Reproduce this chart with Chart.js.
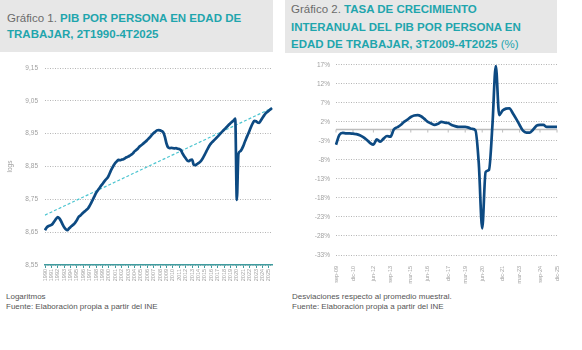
<!DOCTYPE html>
<html>
<head>
<meta charset="utf-8">
<script src="https://cdn.jsdelivr.net/npm/chart.js@4"></script>
<style>
  body { margin: 0; width: 582px; height: 350px; background: #fff; position: relative; overflow: hidden;
         font-family: "Liberation Sans", Arial, sans-serif; }
  .titulo { position: absolute; top: 0; background: #e7e7e7; font-size: 11.5px; color: #6b6b6b; box-sizing: border-box; }
  .titulo b { color: #1fa5ad; }
  .titulo span { color: #1fa5ad; }
  #t1 { left: 0; width: 273px; height: 52px; padding: 10px 0 0 7px; line-height: 16px; }
  #t2 { left: 285px; width: 272px; height: 53px; padding: 1px 0 0 6px; line-height: 17.5px; }
  .nota { position: absolute; font-size: 8px; color: #555; line-height: 10px; }
  #n1 { left: 6px; top: 292px; }
  #n2 { left: 292px; top: 292px; }
  .caja { position: absolute; top: 55px; height: 235px; }
  #c1 { left: 0; width: 280px; }
  #c2 { left: 285px; width: 285px; }
</style>
</head>
<body>
<div class="titulo" id="t1">Gráfico 1. <b>PIB POR PERSONA EN EDAD DE<br>TRABAJAR, 2T1990-4T2025</b></div>
<div class="titulo" id="t2">Gráfico 2. <b>TASA DE CRECIMIENTO<br>INTERANUAL DEL PIB POR PERSONA EN<br>EDAD DE TRABAJAR, 3T2009-4T2025</b> <span>(%)</span></div>

<div class="caja" id="c1"><canvas id="pibChart"></canvas></div>
<div class="caja" id="c2"><canvas id="tasaChart"></canvas></div>

<div class="nota" id="n1">Logaritmos<br>Fuente: Elaboración propia a partir del INE</div>
<div class="nota" id="n2">Desviaciones respecto al promedio muestral.<br>Fuente: Elaboración propia a partir del INE</div>

<script>
// Años del eje X del gráfico 1 (datos trimestrales desde 2T1990)
const years = ['1990','1991','1992','1993','1994','1995','1996','1997','1998','1999',
  '2000','2001','2002','2003','2004','2005','2006','2007','2008','2009',
  '2010','2011','2012','2013','2014','2015','2016','2017','2018','2019',
  '2020','2021','2022','2023','2024','2025'];

// PIB por persona en edad de trabajar (logs), 2T1990-4T2025
const pibLog = [
  8.656, 8.664, 8.668,
  8.670, 8.672, 8.677, 8.684,
  8.691, 8.696, 8.692, 8.684,
  8.674, 8.665, 8.659, 8.656,
  8.661, 8.666, 8.670, 8.674,
  8.680, 8.687, 8.696, 8.700,
  8.705, 8.710, 8.714, 8.718,
  8.723, 8.731, 8.740, 8.750,
  8.760, 8.770, 8.777, 8.784,
  8.791, 8.797, 8.804, 8.810,
  8.815, 8.824, 8.835, 8.845,
  8.854, 8.861, 8.866, 8.870,
  8.869, 8.871, 8.872, 8.875,
  8.878, 8.880, 8.883, 8.886,
  8.890, 8.896, 8.900, 8.904,
  8.910, 8.914, 8.918, 8.922,
  8.926, 8.931, 8.936, 8.941,
  8.947, 8.952, 8.956, 8.960,
  8.961, 8.960, 8.958, 8.954,
  8.940, 8.920, 8.908, 8.906,
  8.907, 8.906, 8.905, 8.906,
  8.904, 8.903, 8.900, 8.890,
  8.882, 8.875, 8.868, 8.866,
  8.870, 8.871, 8.856, 8.854,
  8.857, 8.860, 8.864, 8.870,
  8.878, 8.887, 8.897, 8.906,
  8.915, 8.921, 8.926, 8.931,
  8.936, 8.941, 8.946, 8.952,
  8.957, 8.962, 8.967, 8.972,
  8.977, 8.982, 8.986, 8.990,
  8.996, 8.748, 8.888, 8.896,
  8.902, 8.912, 8.925, 8.937,
  8.948, 8.960, 8.972, 8.982,
  8.989, 8.988, 8.984, 8.983,
  8.990, 8.998, 9.005, 9.012,
  9.016, 9.020, 9.024, 9.028
];

// Tendencia lineal: solo extremos
const trendStart = 8.702;
const trendEnd = 9.028;

const yTicksLeft = [8.55, 8.65, 8.75, 8.85, 8.95, 9.05, 9.15];

// Gráfico 2: trimestres 3T2009-4T2025
const monthNames = ['mar', 'jun', 'sep', 'dic'];
const tasaLabels = [];
for (let y = 2009; y <= 2025; y++) {
  monthNames.forEach((m, q) => {
    if (y === 2009 && q < 2) return;
    tasaLabels.push(`${m}-${String(y).slice(2)}`);
  });
}

const tasa = [
  -4.0, -1.4, -0.9, -1.0, -1.0, -1.1, -1.2, -1.5, -2.0, -2.7,
  -3.5, -4.0, -2.6, -3.2, -2.4, -1.7, -1.9, 0.0, 0.6, 1.2,
  2.0, 2.6, 3.3, 3.7, 3.8, 3.5, 2.8, 2.0, 1.6, 1.2,
  1.5, 2.0, 1.8, 1.7, 1.2, 0.9, 0.7, 0.7, 0.7, 0.5,
  0.2, -0.2, -9.0, -26.0, -11.2, -10.6, 1.0, 16.7, 3.8, 5.0,
  5.5, 5.6, 4.3, 2.8, 1.2, -0.3, -0.8, -0.8, 0.0, 1.0,
  1.2, 1.2, 0.7, 0.7, 0.7, 0.7
];

const yTicksRight = [-33, -28, -23, -18, -13, -8, -3, 2, 7, 12, 17];
const xTicksRight = ['sep-09','dic-10','jun-12','sep-13','mar-15','jun-16','dic-17',
  'mar-19','jun-20','dic-21','mar-23','sep-24','dic-25'];

const fontFam = '"Liberation Sans", Arial, sans-serif';
const azul = '#0d4a82';
const teal = '#3f9c9f';

// Etiquetas trimestrales del gráfico 1
const pibLabels = [];
years.forEach(y => {
  ['1T', '2T', '3T', '4T'].forEach(q => {
    if (y === '1990' && q === '1T') return;
    pibLabels.push(q + y);
  });
});

const trendData = pibLabels.map((_, i) => i === 0 ? trendStart : (i === pibLabels.length - 1 ? trendEnd : null));

// Gráfico 1
new Chart(document.getElementById('pibChart'), {
  type: 'line',
  data: {
    labels: pibLabels,
    datasets: [{
      data: pibLog,
      borderColor: azul,
      borderWidth: 2.7,
      pointRadius: 0,
      cubicInterpolationMode: 'monotone'
    }, {
      data: trendData,
      borderColor: '#4cc5d0',
      borderWidth: 1.2,
      borderDash: [3, 2],
      pointRadius: 0,
      spanGaps: true
    }]
  },
  options: {
    responsive: true,
    maintainAspectRatio: false,
    animation: false,
    layout: { padding: { top: 13, right: 8, left: 0, bottom: 0 } },
    plugins: { legend: { display: false }, tooltip: { enabled: false } },
    scales: {
      x: {
        afterFit: s => { s.height = 25; },
        border: { display: true, color: teal, width: 1.5 },
        grid: {
          drawOnChartArea: false,
          drawTicks: true,
          tickLength: 3,
          color: ctx => pibLabels[ctx.index] && pibLabels[ctx.index].startsWith('2T') ? teal : 'transparent'
        },
        ticks: {
          autoSkip: false,
          maxRotation: 90,
          minRotation: 90,
          padding: 1,
          color: '#a0a0a0',
          font: { family: fontFam, size: 5.5 },
          callback: function (value) {
            const lbl = this.getLabelForValue(value);
            return lbl.startsWith('2T') ? lbl.slice(2) : '';
          }
        }
      },
      y: {
        min: 8.55,
        max: 9.15,
        afterFit: s => { s.width = 45; },
        afterBuildTicks: s => { s.ticks = yTicksLeft.map(v => ({ value: v })); },
        border: { display: false, dash: [1, 1.5] },
        grid: { color: '#b5b5b5', lineWidth: 1, drawTicks: false },
        title: {
          display: true,
          text: 'logs',
          color: '#a0a0a0',
          font: { family: fontFam, size: 6.5 },
          padding: { top: 6, bottom: 0 }
        },
        ticks: {
          padding: 7,
          color: '#a0a0a0',
          font: { family: fontFam, size: 6.5 },
          callback: v => v.toFixed(2).replace('.', ',')
        }
      }
    }
  }
});

// Línea del cero y marcas del eje X para el gráfico 2
const zeroLine = {
  id: 'zeroLine',
  beforeDatasetsDraw(chart) {
    const { ctx, chartArea, scales } = chart;
    const y0 = scales.y.getPixelForValue(0);
    ctx.save();
    ctx.strokeStyle = '#bdbdbd';
    ctx.lineWidth = 1.5;
    ctx.beginPath();
    ctx.moveTo(chartArea.left, y0);
    ctx.lineTo(chartArea.right, y0);
    ctx.stroke();
    ctx.lineWidth = 1;
    tasaLabels.forEach((lbl, i) => {
      if (!xTicksRight.includes(lbl)) return;
      const x = scales.x.getPixelForValue(i);
      ctx.beginPath();
      ctx.moveTo(x, y0);
      ctx.lineTo(x, y0 + 3);
      ctx.stroke();
    });
    ctx.restore();
  }
};

// Gráfico 2
new Chart(document.getElementById('tasaChart'), {
  type: 'line',
  data: {
    labels: tasaLabels,
    datasets: [{
      data: tasa,
      borderColor: azul,
      borderWidth: 2.7,
      pointRadius: 0,
      cubicInterpolationMode: 'monotone'
    }]
  },
  plugins: [zeroLine],
  options: {
    responsive: true,
    maintainAspectRatio: false,
    animation: false,
    layout: { padding: { top: 7, right: 13, left: 0, bottom: 0 } },
    plugins: { legend: { display: false }, tooltip: { enabled: false } },
    scales: {
      x: {
        afterFit: s => { s.height = 35; },
        border: { display: false },
        grid: { display: false },
        ticks: {
          autoSkip: false,
          maxRotation: 90,
          minRotation: 90,
          padding: 3,
          color: '#a0a0a0',
          font: { family: fontFam, size: 5.5 },
          callback: function (value) {
            const lbl = this.getLabelForValue(value);
            return xTicksRight.includes(lbl) ? lbl : '';
          }
        }
      },
      y: {
        min: -33,
        max: 17,
        afterFit: s => { s.width = 51; },
        afterBuildTicks: s => { s.ticks = yTicksRight.map(v => ({ value: v })); },
        border: { display: false, dash: [1, 1.5] },
        grid: { color: '#b5b5b5', lineWidth: 1, drawTicks: false },
        ticks: {
          padding: 6,
          color: '#a0a0a0',
          font: { family: fontFam, size: 6.5 },
          callback: v => v + '%'
        }
      }
    }
  }
});
</script>
</body>
</html>
